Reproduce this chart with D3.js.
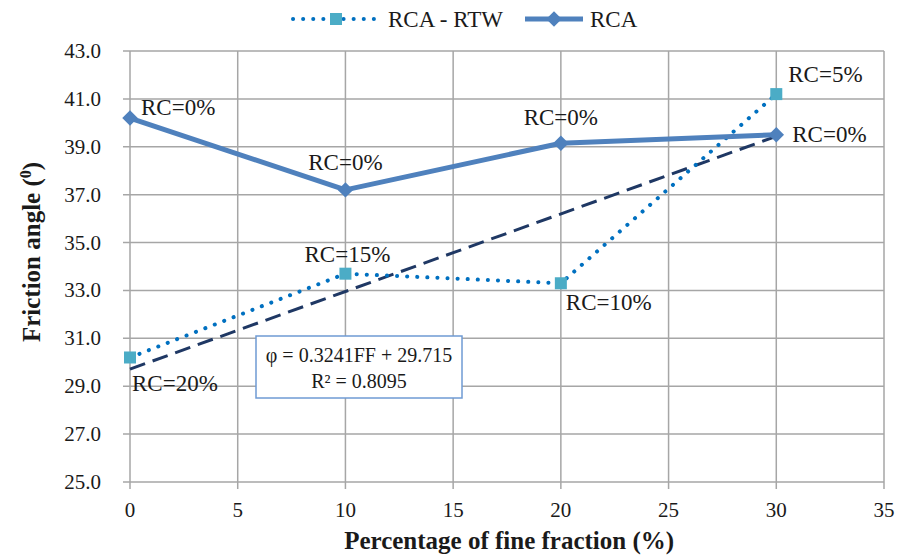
<!DOCTYPE html>
<html>
<head>
<meta charset="utf-8">
<script src="https://cdn.jsdelivr.net/npm/d3@7"></script>
<style>
  body { margin: 0; background: #fff; }
</style>
</head>
<body>
<script>
(function() {
  "use strict";
  const FINES = [0, 10, 20, 30],
    RCA = [40.2, 37.2, 39.15, 39.5],
    RCA_RTW = [30.2, 33.7, 33.3, 41.2],
    RCA_LABELS = ["RC=0%", "RC=0%", "RC=0%", "RC=0%"],
    RTW_LABELS = ["RC=20%", "RC=15%", "RC=10%", "RC=5%"],
    X_TICKS = [0, 5, 10, 15, 20, 25, 30, 35],
    Y_TICKS = [25, 27, 29, 31, 33, 35, 37, 39, 41, 43],
    TREND = { slope: 0.3241, intercept: 29.715 };

  const W = 898, H = 557;
  const m = { left: 130, right: 14, top: 51, bottom: 75 };
  const FONT = "'Liberation Serif', 'Times New Roman', serif";

  const svg = d3.select("body").append("svg").attr("width", W).attr("height", H)
    .style("font-family", FONT);

  const x = d3.scaleLinear().domain([0, 35]).range([m.left, W - m.right]);
  const y = d3.scaleLinear().domain([25, 43]).range([H - m.bottom, m.top]);

  function txt(sel) {
    return sel.attr("font-family", FONT).attr("fill", "#1a1a1a");
  }
  // square turned 45 degrees, like the Excel diamond marker
  const diamond = d3.symbol(d3.symbolSquare, 120);

  // grid
  svg.append("g").selectAll("line").data(X_TICKS).enter().append("line")
    .attr("x1", d => x(d)).attr("x2", d => x(d))
    .attr("y1", y(43)).attr("y2", y(25) + 7)
    .attr("stroke", "#a6a6a6").attr("stroke-width", 1.5);
  svg.append("g").selectAll("line").data(Y_TICKS).enter().append("line")
    .attr("x1", x(0) - 7).attr("x2", x(35))
    .attr("y1", d => y(d)).attr("y2", d => y(d))
    .attr("stroke", "#a6a6a6").attr("stroke-width", 1.5);

  // tick labels
  txt(svg.append("g").selectAll("text").data(Y_TICKS).enter().append("text"))
    .attr("x", x(0) - 29).attr("y", d => y(d) + 7)
    .attr("text-anchor", "end").attr("font-size", 21)
    .text(d => d.toFixed(1));
  txt(svg.append("g").selectAll("text").data(X_TICKS).enter().append("text"))
    .attr("x", d => x(d)).attr("y", y(25) + 35)
    .attr("text-anchor", "middle").attr("font-size", 21)
    .text(d => d);

  // axis titles
  txt(svg.append("text"))
    .attr("transform", "translate(40,252) rotate(-90)")
    .attr("text-anchor", "middle").attr("font-size", 25).attr("font-weight", "bold")
    .html("Friction angle (<tspan dy='-9' font-size='16'>0</tspan><tspan dy='9'>)</tspan>");
  txt(svg.append("text"))
    .attr("x", x(17.6)).attr("y", H - 8)
    .attr("text-anchor", "middle").attr("font-size", 25).attr("font-weight", "bold")
    .text("Percentage of fine fraction (%)");

  // trend line
  svg.append("line")
    .attr("x1", x(0)).attr("y1", y(TREND.intercept))
    .attr("x2", x(30)).attr("y2", y(TREND.intercept + TREND.slope * 30))
    .attr("stroke", "#1f3864").attr("stroke-width", 3)
    .attr("stroke-dasharray", "16,8");

  const line = d3.line().x(d => x(d[0])).y(d => y(d[1]));

  // RCA - RTW dotted
  const rtw = FINES.map((f, i) => [f, RCA_RTW[i]]);
  svg.append("path").datum(rtw).attr("d", line)
    .attr("fill", "none").attr("stroke", "#0070c0").attr("stroke-width", 4)
    .attr("stroke-linecap", "round").attr("stroke-dasharray", "0.1,10");
  svg.append("g").selectAll("rect").data(rtw).enter().append("rect")
    .attr("x", d => x(d[0]) - 6).attr("y", d => y(d[1]) - 6)
    .attr("width", 12).attr("height", 12).attr("fill", "#4bacc6");

  // RCA solid
  const rca = FINES.map((f, i) => [f, RCA[i]]);
  svg.append("path").datum(rca).attr("d", line)
    .attr("fill", "none").attr("stroke", "#4f81bd").attr("stroke-width", 5)
    .attr("stroke-linejoin", "round");
  svg.append("g").selectAll("path").data(rca).enter().append("path")
    .attr("d", diamond)
    .attr("transform", d => "translate(" + x(d[0]) + "," + y(d[1]) + ") rotate(45)")
    .attr("fill", "#4f81bd");

  // data labels
  const rcaOff = [[11, -3, "start"], [0, -20, "middle"], [0, -18, "middle"], [16, 7, "start"]];
  txt(svg.append("g").selectAll("text").data(rca).enter().append("text"))
    .attr("x", (d, i) => x(d[0]) + rcaOff[i][0]).attr("y", (d, i) => y(d[1]) + rcaOff[i][1])
    .attr("text-anchor", (d, i) => rcaOff[i][2]).attr("font-size", 23)
    .text((d, i) => RCA_LABELS[i]);
  const rtwOff = [[2, 34, "start"], [2, -12, "middle"], [5, 27, "start"], [12, -12, "start"]];
  txt(svg.append("g").selectAll("text").data(rtw).enter().append("text"))
    .attr("x", (d, i) => x(d[0]) + rtwOff[i][0]).attr("y", (d, i) => y(d[1]) + rtwOff[i][1])
    .attr("text-anchor", (d, i) => rtwOff[i][2]).attr("font-size", 23)
    .text((d, i) => RTW_LABELS[i]);

  // equation box
  const eq = svg.append("g").attr("transform", "translate(256,336)");
  eq.append("rect").attr("width", 206).attr("height", 62)
    .attr("fill", "#fff").attr("stroke", "#6f9bd4").attr("stroke-width", 1.5);
  txt(eq.append("text")).attr("x", 103).attr("y", 26).attr("text-anchor", "middle")
    .attr("font-size", 20).text("φ = 0.3241FF + 29.715");
  txt(eq.append("text")).attr("x", 103).attr("y", 52).attr("text-anchor", "middle")
    .attr("font-size", 20).text("R² = 0.8095");

  // legend
  const lg = svg.append("g");
  lg.append("line").attr("x1", 293).attr("x2", 377).attr("y1", 19).attr("y2", 19)
    .attr("stroke", "#0070c0").attr("stroke-width", 4)
    .attr("stroke-linecap", "round").attr("stroke-dasharray", "0.1,10");
  lg.append("rect").attr("x", 330).attr("y", 13).attr("width", 12).attr("height", 12)
    .attr("fill", "#4bacc6");
  txt(lg.append("text")).attr("x", 388).attr("y", 27).attr("font-size", 23).text("RCA - RTW");
  lg.append("line").attr("x1", 525).attr("x2", 583).attr("y1", 19).attr("y2", 19)
    .attr("stroke", "#4f81bd").attr("stroke-width", 5);
  lg.append("path").attr("d", diamond)
    .attr("transform", "translate(554,19) rotate(45)").attr("fill", "#4f81bd");
  txt(lg.append("text")).attr("x", 590).attr("y", 27).attr("font-size", 23).text("RCA");
}());
</script>
</body>
</html>
